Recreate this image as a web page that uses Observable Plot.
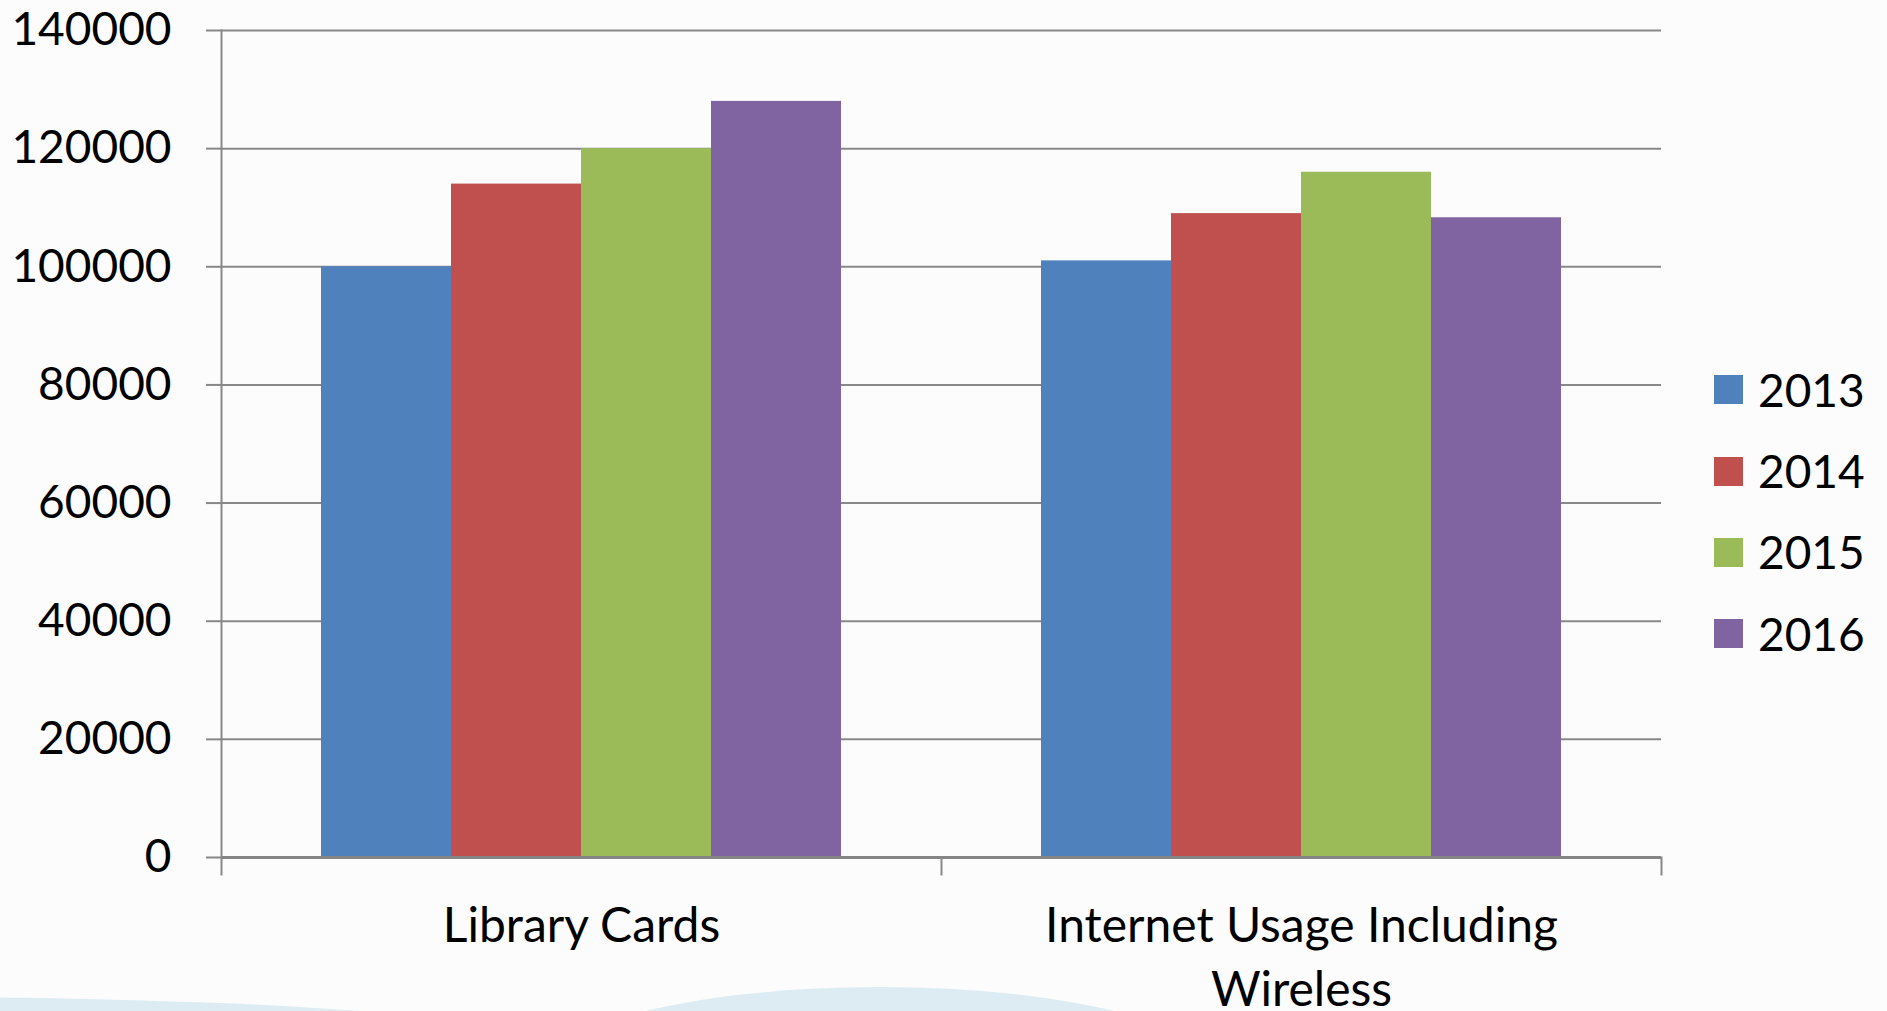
<!DOCTYPE html>
<html>
<head>
<meta charset="utf-8">
<script src="https://cdn.jsdelivr.net/npm/d3@7"></script>
<script src="https://cdn.jsdelivr.net/npm/@observablehq/plot@0.6"></script>
<style>
  html, body { margin: 0; padding: 0; background: #fcfcfc; overflow: hidden; }
  #wrap { position: relative; width: 1887px; height: 1011px; overflow: hidden; font-family: Lato, "Liberation Sans", sans-serif; }
  .wave { position: absolute; background: #ddecf3; border-radius: 50%; z-index: 0; }
  #chart { position: absolute; left: 0; top: 0; z-index: 1; }
  #legend { position: absolute; left: 1714px; top: 0; z-index: 2; }
  .item { position: absolute; left: 0; display: flex; align-items: center; height: 46px; white-space: nowrap; }
  .sw { width: 29px; height: 29px; margin-right: 15px; flex: none; }
  .lab { font-size: 46px; color: #000; line-height: 46px; }
</style>
</head>
<body>
<div id="wrap">
  <div class="wave" style="left:-736px; top:997px; width:1272px; height:90px;"></div>
  <div class="wave" style="left:530px; top:987px; width:700px; height:186px;"></div>
  <div id="chart"></div>
  <div id="legend"></div>
</div>
<script>
// ---- data ----
const categories = ["Library Cards", "Internet Usage Including Wireless"];
const categoryLabels = ["Library Cards", "Internet Usage Including\nWireless"];
const years = ["2013", "2014", "2015", "2016"];
const libraryCards = [100000, 114000, 120000, 128000];
const internetUsage = [101000, 109000, 116000, 108300];
const yTicks = [0, 20000, 40000, 60000, 80000, 100000, 120000, 140000];
const colors = ["#4f81bd", "#c0504d", "#9bbb59", "#8064a2"];

const seriesByCategory = [libraryCards, internetUsage];
const data = [];
categories.forEach((c, ci) => {
  years.forEach((y, yi) => data.push({category: c, year: y, value: seriesByCategory[ci][yi]}));
});
const labelRows = categories.map((c, i) => ({category: c, label: categoryLabels[i]}));

const gridColor = "#888888";

const plot = Plot.plot({
  width: 1887,
  height: 1011,
  marginLeft: 220,
  marginRight: 226,
  marginTop: 30,
  marginBottom: 154,
  style: {background: "transparent", fontFamily: "Lato, 'Liberation Sans', sans-serif", fontSize: "46px", color: "#000", overflow: "visible"},
  fx: {domain: categories, padding: 0, axis: null, label: null},
  x: {domain: years, paddingInner: 0, paddingOuter: 0.755, axis: null, label: null},
  y: {domain: [0, 140000], label: null},
  color: {domain: years, range: colors},
  marks: [
    Plot.ruleY(yTicks.filter(d => d > 0), {stroke: gridColor, strokeWidth: 2}),
    Plot.barY(data, {fx: "category", x: "year", y: "value", fill: "year"}),
    Plot.ruleY([0], {stroke: "#858585", strokeWidth: 3}),
    Plot.frame({anchor: "left", facetAnchor: "left", stroke: gridColor, strokeWidth: 2}),
    Plot.frame({anchor: "left", insetTop: 827, insetBottom: -17, stroke: gridColor, strokeWidth: 2}),
    Plot.frame({anchor: "right", facetAnchor: "right", insetTop: 827, insetBottom: -17, stroke: gridColor, strokeWidth: 2}),
    Plot.axisY(yTicks, {anchor: "left", tickSize: 15, tickPadding: 35, tickFormat: d => String(d), label: null, stroke: gridColor, strokeWidth: 2, fill: "#000", fontSize: 46}),
    Plot.text(labelRows, {fx: "category", text: "label", frameAnchor: "bottom", lineAnchor: "top", dy: 38, lineHeight: 1.35, fontSize: 48, fill: "#000"})
  ]
});
document.getElementById("chart").appendChild(plot);

const legendCentres = [389.5, 471, 552, 633.5];
const legend = document.getElementById("legend");
years.forEach((y, i) => {
  const item = document.createElement("div");
  item.className = "item";
  item.style.top = (legendCentres[i] - 23) + "px";
  item.innerHTML = `<div class="sw" style="background:${colors[i]}"></div><div class="lab">${y}</div>`;
  legend.appendChild(item);
});
</script>
</body>
</html>
